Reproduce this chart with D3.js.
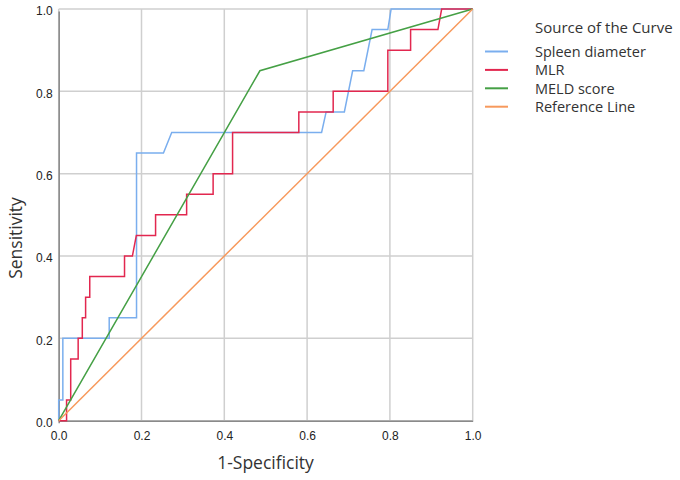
<!DOCTYPE html>
<html lang="en">
<head>
<meta charset="utf-8">
<script src="https://d3js.org/d3.v7.min.js"></script>
<style>
  body { margin: 0; background: #fff; }
  svg { font-family: "Open Sans", "Noto Sans", sans-serif; }
  .tick text { font-family: "Liberation Sans", Arial, sans-serif; font-size: 12px; fill: #222; }
</style>
</head>
<body>
<svg id="roc" width="680" height="480"></svg>
<script>
// ROC curves: [1-specificity, sensitivity]
const spleen = [[0,0],[0,0.05],[0.01,0.05],[0.01,0.2],[0.122,0.2],[0.122,0.25],[0.188,0.25],
  [0.188,0.65],[0.253,0.65],[0.273,0.70],[0.635,0.70],[0.646,0.75],[0.690,0.75],[0.710,0.85],
  [0.737,0.85],[0.757,0.95],[0.795,0.95],[0.803,1],[1,1]];
const mlr = [[0,0],[0.019,0],[0.019,0.05],[0.029,0.05],[0.029,0.15],[0.047,0.15],[0.047,0.2],
  [0.057,0.2],[0.057,0.25],[0.065,0.25],[0.065,0.3],[0.075,0.3],[0.075,0.35],[0.159,0.35],
  [0.159,0.4],[0.178,0.4],[0.1875,0.45],[0.234,0.45],[0.234,0.5],[0.309,0.5],[0.309,0.55],
  [0.373,0.55],[0.373,0.6],[0.42,0.6],[0.42,0.7],[0.58,0.7],[0.58,0.75],[0.663,0.75],
  [0.663,0.8],[0.795,0.8],[0.795,0.9],[0.85,0.9],[0.85,0.95],[0.916,0.95],[0.925,1],[1,1]];
const meld = [[0,0],[0.486,0.85],[1,1]];
const refLine = [[0,0],[1,1]];

const seriesNames = ["Spleen diameter", "MLR", "MELD score", "Reference Line"];
const seriesColors = ["#7aaeee", "#e2274f", "#45a045", "#f7995c"];
const ticks = [0, 0.2, 0.4, 0.6, 0.8, 1.0];

const svg = d3.select("#roc");
const x = d3.scaleLinear().domain([0, 1]).range([58.7, 472.7]);
const y = d3.scaleLinear().domain([0, 1]).range([420.7, 9]);

// grid
const grid = svg.append("g");
grid.selectAll("line.gx").data(ticks).enter().append("line")
  .attr("x1", d => x(d)).attr("x2", d => x(d))
  .attr("y1", y(0)).attr("y2", y(1))
  .attr("stroke", "#cfcfcf").attr("stroke-width", 1.5);
grid.selectAll("line.gy").data(ticks).enter().append("line")
  .attr("x1", x(0)).attr("x2", x(1))
  .attr("y1", d => y(d)).attr("y2", d => y(d))
  .attr("stroke", "#cfcfcf").attr("stroke-width", 1.5);

// axes
svg.append("g").attr("transform", `translate(0,${y(0)})`)
  .call(d3.axisBottom(x).tickValues(ticks).tickFormat(d3.format(".1f")).tickSize(0).tickPadding(11));
svg.append("g").attr("transform", `translate(${x(0)},2)`)
  .call(d3.axisLeft(y).tickValues(ticks).tickFormat(d3.format(".1f")).tickSize(0).tickPadding(6));
svg.selectAll(".domain").attr("stroke", "#8a8a8a").attr("stroke-width", 1.5);

// curves
const line = d3.line().x(d => x(d[0])).y(d => y(d[1]));
const allSeries = [spleen, mlr, meld, refLine];
svg.append("g").selectAll("path").data(allSeries).enter().append("path")
  .attr("d", line)
  .attr("fill", "none")
  .attr("stroke", (d, i) => seriesColors[i])
  .attr("stroke-width", 1.5);

// axis titles
svg.append("text").attr("x", 265.5).attr("y", 469).attr("text-anchor", "middle")
  .attr("font-size", 17.5).attr("fill", "#333").text("1-Specificity");
svg.append("text").attr("transform", "translate(22,238) rotate(-90)").attr("text-anchor", "middle")
  .attr("font-size", 17.5).attr("fill", "#333").text("Sensitivity");

// legend
const legend = svg.append("g");
legend.append("text").attr("x", 535).attr("y", 32.5).attr("font-size", 15).attr("fill", "#333")
  .text("Source of the Curve");
const items = legend.selectAll("g.item").data(seriesNames).enter().append("g")
  .attr("transform", (d, i) => `translate(0,${51.5 + i * 18.4})`);
items.append("line").attr("x1", 485).attr("x2", 508).attr("y1", 0).attr("y2", 0)
  .attr("stroke", (d, i) => seriesColors[i]).attr("stroke-width", 2);
items.append("text").attr("x", 535).attr("y", 5.5).attr("font-size", 14.5).attr("fill", "#333")
  .text(d => d);
</script>
</body>
</html>
